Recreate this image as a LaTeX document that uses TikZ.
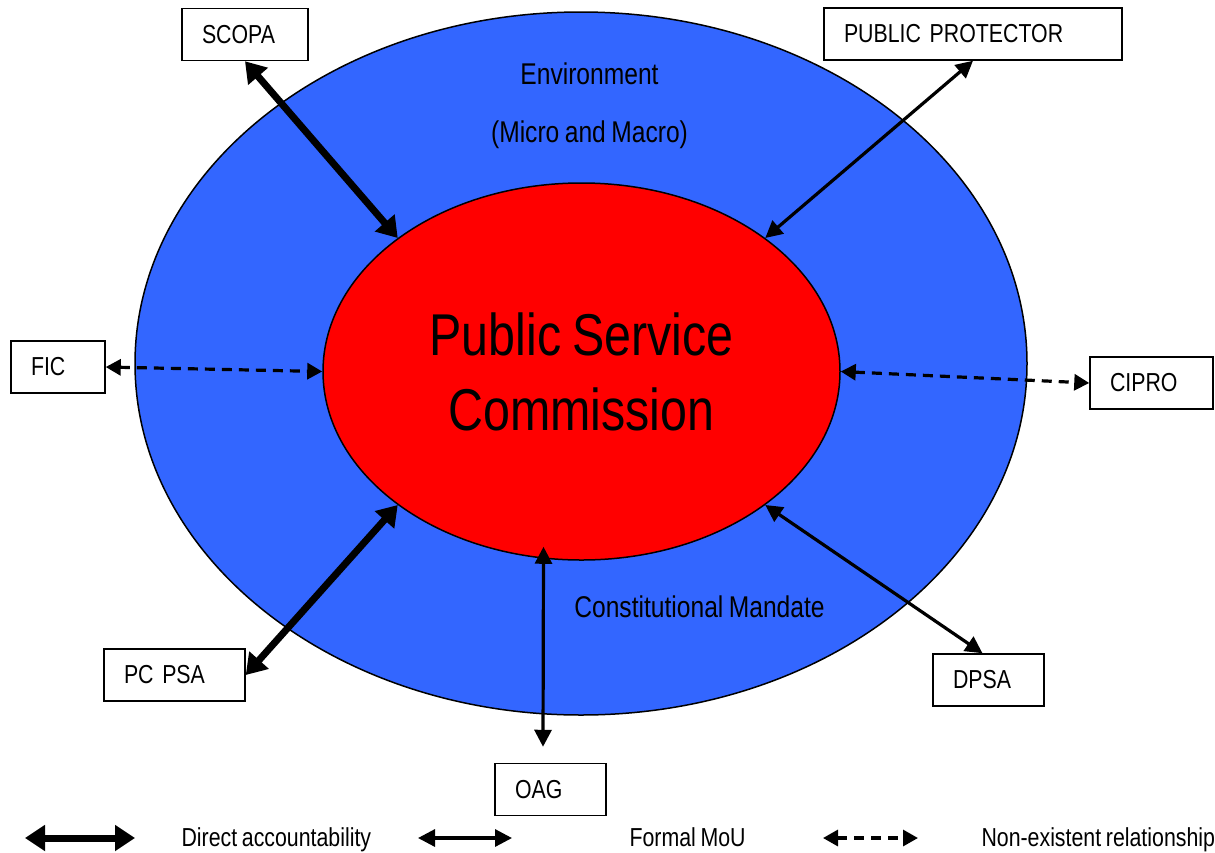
\documentclass[tikz,border=0pt]{standalone}
\usepackage{fontspec}
\setmainfont{Liberation Sans}[FakeStretch=0.82, WordSpace=0.8]
\usepackage{tikz}
\usetikzlibrary{shapes.geometric, arrows.meta}
\definecolor{envblue}{HTML}{3366FF}
\definecolor{pscred}{HTML}{FF0000}
\tikzstyle{agency} = [rectangle, draw=black, line width=1.5pt, fill=white, minimum height=52pt, inner xsep=20pt, align=left, font=\fontsize{26}{30}\selectfont]
\tikzstyle{label} = [anchor=base, font=\fontsize{30}{36}\selectfont]
\tikzstyle{legend} = [anchor=base west, font=\fontsize{26}{30}\selectfont]
\tikzstyle{direct} = [line width=7pt, {Triangle[length=20pt,width=25pt]}-{Triangle[length=20pt,width=25pt]}]
\tikzstyle{formal} = [line width=3.2pt, {Triangle[length=17pt,width=17pt]}-{Triangle[length=17pt,width=17pt]}]
\tikzstyle{nonexist} = [line width=3.2pt, dash pattern=on 10pt off 7pt, {Triangle[length=15pt,width=16pt]}-{Triangle[length=15pt,width=16pt]}]

\begin{document}
\begin{tikzpicture}[x=1pt, y=-1pt]
      \useasboundingbox (0,0) rectangle (1215,852);
      % environment and commission
      \node (env) [ellipse, draw=black, line width=1.5pt, fill=envblue, minimum width=892pt, minimum height=703pt] at (581,363.5) {};
      \node (envtxt) [label] at (589.5,84) {Environment};
      \node (mactxt) [label] at (589.5,142) {(Micro and Macro)};
      \node (mandate) [label] at (699.5,617) {Constitutional Mandate};
      \node (psc) [ellipse, draw=black, line width=1.5pt, fill=pscred, minimum width=517pt, minimum height=377pt, inner sep=0pt, align=center, font=\fontsize{59}{75}\selectfont] at (581.5,371.5) {Public Service\\Commission};
      % agencies
      \node (scopa) [agency, text width=86pt] at (245,34.5) {SCOPA};
      \node (pp) [agency, text width=258pt] at (973,34) {PUBLIC PROTECTOR};
      \node (fic) [agency, text width=54pt] at (58,367) {FIC};
      \node (cipro) [agency, text width=83pt] at (1151.5,383) {CIPRO};
      \node (pcpsa) [agency, text width=101pt] at (174.5,675) {PC PSA};
      \node (dpsa) [agency, text width=71pt] at (988.5,680) {DPSA};
      \node (oag) [agency, text width=71pt] at (550.5,789.5) {OAG};
      % relationships
      \draw [direct] (scopa.south) -- (psc.144);
      \draw [formal] (pp.south) -- (psc.36);
      \draw [nonexist] (fic.east) -- (psc.west);
      \draw [nonexist] (psc.east) -- (cipro.west);
      \draw [direct] (psc.216) -- (pcpsa.east);
      \draw [formal] (psc.324) -- ([xshift=-6pt]dpsa.north);
      \draw [formal] ([xshift=-38pt,yshift=14pt]psc.south) -- ([xshift=-7.5pt,yshift=16pt]oag.north);
      % legend
      \coordinate (d1) at (25,838);
      \coordinate (d2) at (135,838);
      \draw [direct] (d1) -- (d2);
      \node (dtxt) [legend] at (178,846) {Direct accountability};
      \coordinate (f1) at (418,838);
      \coordinate (f2) at (512,838);
      \draw [formal] (f1) -- (f2);
      \node (ftxt) [legend] at (626,846) {Formal MoU};
      \coordinate (n1) at (823,838);
      \coordinate (n2) at (918,838);
      \draw [nonexist] (n1) -- (n2);
      \node (ntxt) [legend] at (978,846) {Non-existent relationship};
    \end{tikzpicture}
\end{document}
